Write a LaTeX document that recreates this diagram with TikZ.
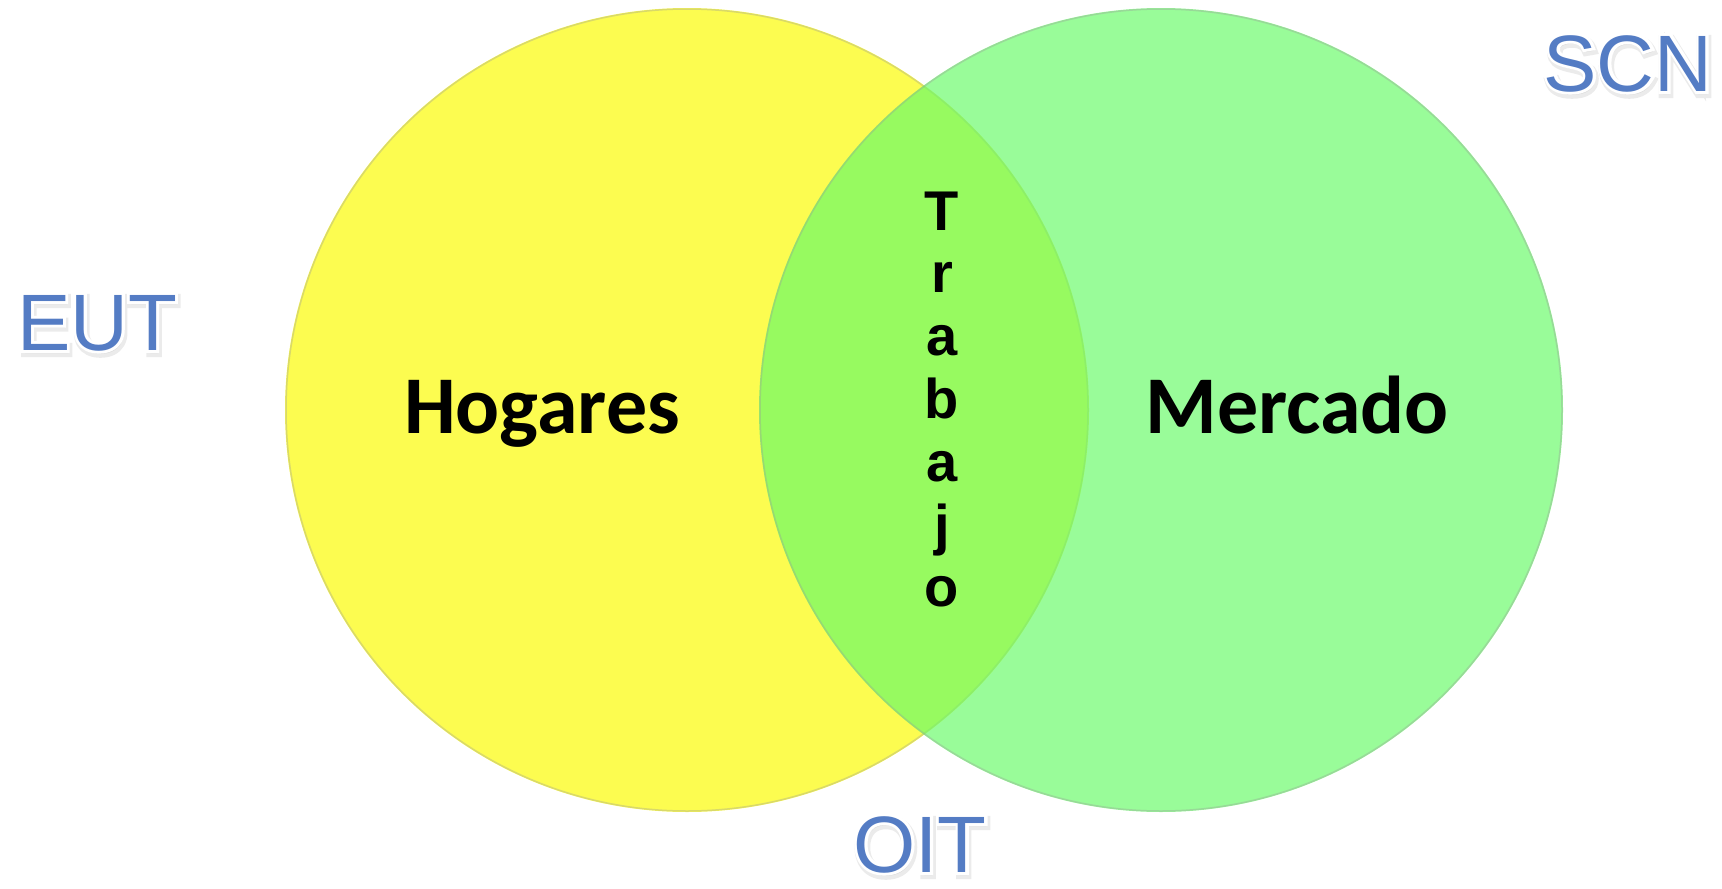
\documentclass[tikz,border=0pt]{standalone}
\usepackage{fontspec}
\setmainfont{Carlito}
\newfontfamily\arialf{Liberation Sans}
\newfontfamily\arialhalo{Liberation Sans}[RawFeature={embolden=7}]
\newfontfamily\arialshadow{Liberation Sans}[RawFeature={embolden=10}]
\newfontfamily\arialbold{Liberation Sans Bold}
\usetikzlibrary{calc}
\definecolor{yel}{RGB}{252,252,80}
\definecolor{grn}{RGB}{104,250,104}
\definecolor{bluetxt}{RGB}{84,124,196}
\tikzset{
  setlabel/.style={anchor=base,inner sep=0pt,font=\arialf\fontsize{80}{80}\selectfont},
  halolabel/.style={anchor=base,inner sep=0pt,font=\arialhalo\fontsize{80}{80}\selectfont},
  shadowlabel/.style={anchor=base,inner sep=0pt,font=\arialshadow\fontsize{80}{80}\selectfont},
  biglabel/.style={anchor=base,inner sep=0pt,font=\bfseries\fontsize{82}{82}\selectfont},
  letter/.style={anchor=base,inner sep=0pt,font=\arialbold\fontsize{56}{56}\selectfont},
}
\newcommand{\haloText}[3]{% name, position, text
  \node[shadowlabel,text=black,opacity=0.08] at ($#2+(1.5,3)$) {#3};
  \node[halolabel,text=white] at #2 {#3};
  \node[setlabel,text=bluetxt] (#1) at #2 {#3};
}
\begin{document}
\begin{tikzpicture}[x=1pt,y=-1pt]
\useasboundingbox (0,0) rectangle (1722,889);
% circles
\fill[yel] (687,410) circle (402);
\draw[black!40,line width=1.5pt,opacity=0.35] (687,410) circle (401);
\fill[grn,opacity=0.68] (1161,410) circle (402);
\draw[black!40,line width=1.5pt,opacity=0.35] (1161,410) circle (401);
% labels
\node[biglabel] (hog) at (542,433) {Hogares};
\node[biglabel] (mer) at (1297,433) {Mercado};
\foreach \ch [count=\i from 0] in {T,r,a,b,a,j,o}{
  \node[letter] (t\i) at (942,{230+62.8*\i}) {\ch};
}
\haloText{eut}{(97,350)}{EUT}
\haloText{scn}{(1628,91)}{SCN}
\haloText{oit}{(920,872)}{OIT}
\end{tikzpicture}
\end{document}
